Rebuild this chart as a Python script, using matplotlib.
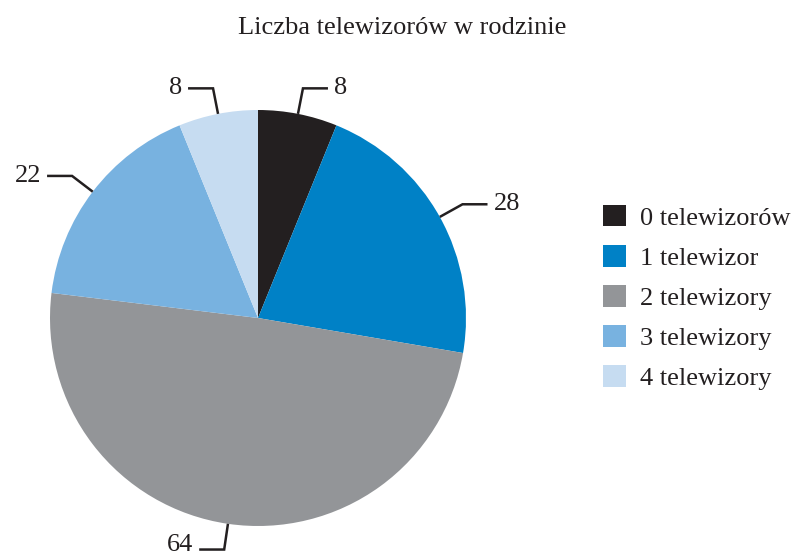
import numpy as np
import matplotlib
matplotlib.use('Agg')
import matplotlib.pyplot as plt

plt.rcParams['font.family'] = ['Liberation Serif', 'DejaVu Serif']

categories = ['0 telewizorów', '1 telewizor', '2 telewizory', '3 telewizory', '4 telewizory']
counts = [8, 28, 64, 22, 8]
colors = ['#231f20', '#0081c6', '#939598', '#78b2e0', '#c6dcf1']
title = 'Liczba telewizorów w rodzinie'

W, H = 799, 559
FS = 19
fig = plt.figure(figsize=(W / 100, H / 100), dpi=100)
# axes in pixel-like units, y up
ax = fig.add_axes([0, 0, 1, 1])

cx, cy, r = 258, H - 318, 208
wedges, _ = ax.pie(counts, colors=colors, startangle=90, counterclock=False,
                   center=(cx, cy), radius=r, frame=True)
ax.set_xlim(0, W)
ax.set_ylim(0, H)
ax.set_aspect('auto')
ax.axis('off')

# leader lines: radial piece, then horizontal piece to the label
r_elbow = 234
tail = 25
for w, n in zip(wedges, counts):
    ang = np.deg2rad((w.theta1 + w.theta2) / 2)
    x0, y0 = cx + r * np.cos(ang), cy + r * np.sin(ang)
    x1, y1 = cx + r_elbow * np.cos(ang), cy + r_elbow * np.sin(ang)
    side = 1 if np.cos(ang) >= 0 else -1
    x2 = x1 + side * tail
    ax.plot([x0, x1, x2], [y0, y1, y1], color='#231f20', lw=1.8,
            solid_joinstyle='miter', solid_capstyle='butt')
    # keep the bottom label inside the figure
    ax.text(x2 + side * 6, max(y1, 14), str(n), ha='left' if side > 0 else 'right',
            va='center', fontsize=FS, color='#231f20')

fig.text(402 / W, 1 - 28 / H, title, ha='center', va='center',
         fontsize=FS, color='#231f20')

leg = ax.legend(wedges, categories, loc='upper left',
                bbox_to_anchor=(603 / W, 1 - 205 / H), frameon=False,
                fontsize=FS, handlelength=0.87, handleheight=0.87,
                handletextpad=0.52, labelspacing=0.58, borderpad=0,
                borderaxespad=0)
for t in leg.get_texts():
    t.set_color('#231f20')

fig.savefig('out.png', dpi=100)
